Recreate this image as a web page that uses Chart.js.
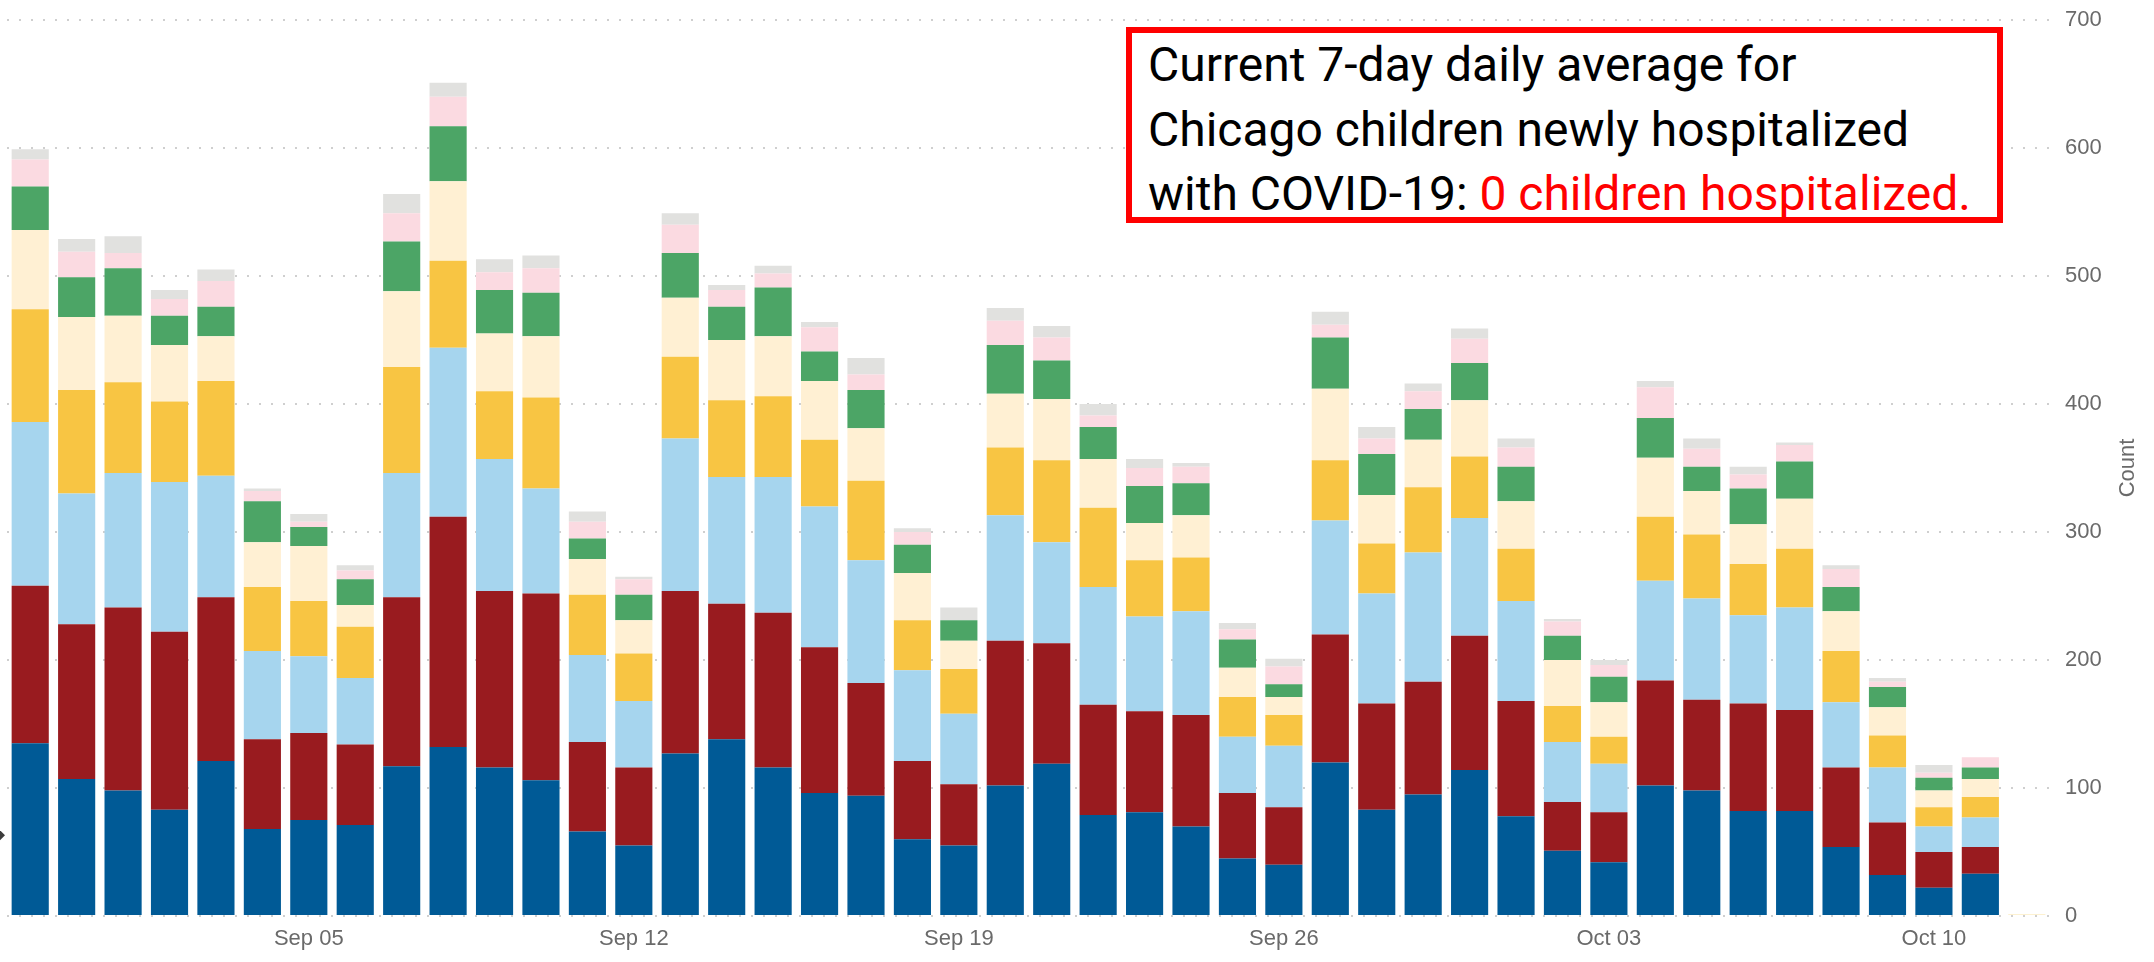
<!DOCTYPE html>
<html>
<head>
<meta charset="utf-8">
<script src="https://cdn.jsdelivr.net/npm/chart.js@4.4.1/dist/chart.umd.min.js"></script>
<style>
  html, body { margin: 0; padding: 0; background: #ffffff; }
  #wrap { position: relative; width: 2154px; height: 962px; overflow: hidden; }
  #chart { position: absolute; left: 0; top: 0; }
  #note {
    position: absolute; left: 1126px; top: 27px; width: 877px; height: 196px;
    box-sizing: border-box; border: 6px solid #ff0000; background: #ffffff;
    font-family: Roboto, "Noto Sans", sans-serif; font-size: 48px; line-height: 64.5px;
    color: #000000; padding: 0 0 0 16px; white-space: nowrap;
  }
  #note .hl { color: #ff0000; }
</style>
</head>
<body>
<div id="wrap">
  <canvas id="chart" width="2154" height="962"></canvas>
  <div id="note">Current 7-day daily average for<br>Chicago children newly hospitalized<br>with COVID-19: <span class="hl">0 children hospitalized.</span></div>
</div>
<script>
const categories = ['Aug 30','Aug 31','Sep 01','Sep 02','Sep 03','Sep 04','Sep 05','Sep 06','Sep 07','Sep 08',
  'Sep 09','Sep 10','Sep 11','Sep 12','Sep 13','Sep 14','Sep 15','Sep 16','Sep 17','Sep 18',
  'Sep 19','Sep 20','Sep 21','Sep 22','Sep 23','Sep 24','Sep 25','Sep 26','Sep 27','Sep 28',
  'Sep 29','Sep 30','Oct 01','Oct 02','Oct 03','Oct 04','Oct 05','Oct 06','Oct 07','Oct 08',
  'Oct 09','Oct 10','Oct 11','Oct 12'];
const xTickLabels = ['Sep 05','Sep 12','Sep 19','Sep 26','Oct 03','Oct 10'];
const yTickValues = [0,100,200,300,400,500,600,700];
const yAxisTitle = 'Count';

const series1 = [135,107,98,83,121,68,75,71,117,132,116,106,66,55,127,138,116,96,94,60,55,102,119,79,81,70,45,40,120,83,95,114,78,51,42,102,98,82,82,54,32,22,33,0];
const series2 = [123,121,143,139,128,70,68,63,132,180,138,146,70,61,127,106,121,114,88,61,48,113,94,86,79,87,51,45,100,83,88,105,90,38,39,82,71,84,79,62,41,28,21,0];
const series3 = [128,102,105,117,95,69,60,52,97,132,103,82,68,52,119,99,106,110,96,71,55,98,79,92,74,81,44,48,89,86,101,92,78,47,38,78,79,69,80,51,43,20,23,0];
const series4 = [88,81,71,63,74,50,43,40,83,68,53,71,47,37,64,60,63,52,62,39,35,53,64,62,44,42,31,24,47,39,51,48,41,28,21,50,50,40,46,40,25,15,16,1];
const series5 = [62,57,52,44,35,35,43,17,59,62,45,48,28,26,46,47,47,46,41,37,22,42,48,38,29,33,23,14,56,38,37,44,37,36,27,46,34,31,39,31,22,13,14,0];
const series6 = [34,31,37,23,23,32,15,20,39,43,34,34,16,20,35,26,38,23,30,22,16,38,30,25,29,25,22,10,40,32,24,29,27,19,20,31,19,28,29,19,16,10,9,0];
const series7 = [21,20,12,13,20,8,4,7,22,23,14,19,13,12,22,13,11,19,12,10,0,19,18,9,14,13,8,14,10,12,14,19,15,11,9,24,14,11,13,14,4,4,8,0];
const series8 = [8,10,13,7,9,2,6,4,15,11,10,10,8,2,9,4,6,4,13,3,10,10,9,9,7,3,5,6,10,9,6,8,7,2,4,5,8,6,2,3,3,6,0,0];

const seriesNames = ['Series 1','Series 2','Series 3','Series 4','Series 5','Series 6','Series 7','Series 8'];
const seriesData = [series1, series2, series3, series4, series5, series6, series7, series8];
const seriesColors = ['#005a96','#991b1f','#a6d5ee','#f8c543','#fff0d3','#4ca566','#fbdae1','#e1e1df'];

const tickFont = { family: '"Liberation Sans", Arial, sans-serif', size: 22 };
const tickColor = '#6a6a6a';

const decorPlugin = {
  id: 'decor',
  afterDraw(chart) {
    const ctx = chart.ctx;
    const y = chart.scales.y;
    const area = chart.chartArea;
    ctx.save();
    ctx.fillStyle = tickColor;
    ctx.font = '22px "Liberation Sans", Arial, sans-serif';
    ctx.textAlign = 'center';
    ctx.textBaseline = 'middle';
    ctx.translate(y.right - 26, (area.top + area.bottom) / 2);
    ctx.rotate(-Math.PI / 2);
    ctx.fillText(yAxisTitle, 0, 0);
    ctx.restore();
    ctx.save();
    ctx.fillStyle = '#3c3c3c';
    const my = y.getPixelForValue(63);
    ctx.beginPath();
    ctx.moveTo(-2, my - 7);
    ctx.lineTo(5, my);
    ctx.lineTo(-2, my + 7);
    ctx.closePath();
    ctx.fill();
    ctx.restore();
  }
};

new Chart(document.getElementById('chart'), {
  type: 'bar',
  data: {
    labels: categories,
    datasets: seriesData.map((d, i) => ({
      label: seriesNames[i],
      data: d,
      backgroundColor: seriesColors[i],
      borderWidth: 0,
      categoryPercentage: 1.0,
      barPercentage: 0.8
    }))
  },
  options: {
    responsive: false,
    animation: false,
    layout: { padding: { left: 7, right: 0, top: 20, bottom: 0 } },
    plugins: { legend: { display: false }, tooltip: { enabled: false } },
    scales: {
      x: {
        stacked: true,
        grid: { display: false, drawTicks: false },
        border: { display: false },
        ticks: {
          autoSkip: false, maxRotation: 0, minRotation: 0, padding: 10,
          font: tickFont, color: tickColor,
          callback: function(v, i) { const l = categories[i]; return xTickLabels.includes(l) ? l : ''; }
        },
        afterFit(scale) { scale.height = 46; scale.paddingLeft = 0; scale.paddingRight = 0; }
      },
      y: {
        stacked: true,
        position: 'right',
        min: 0, max: 700,
        afterBuildTicks(scale) { scale.ticks = yTickValues.map(v => ({ value: v })); },
        grid: { color: '#cfcfcf', lineWidth: 2, drawTicks: false },
        border: { display: false, dash: [2, 10] },
        ticks: { padding: 15, font: tickFont, color: tickColor },
        afterFit(scale) { scale.width = 104; scale.paddingTop = 0; scale.paddingBottom = 0; }
      }
    }
  },
  plugins: [decorPlugin]
});
</script>
</body>
</html>
